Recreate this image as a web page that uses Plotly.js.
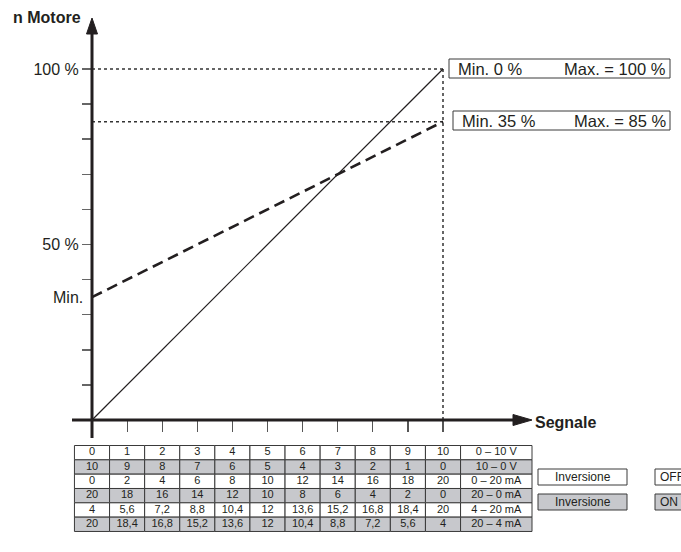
<!DOCTYPE html>
<html>
<head>
<meta charset="utf-8">
<script src="https://cdn.plot.ly/plotly-3.0.1.min.js"></script>
<style>html,body{margin:0;padding:0;background:#fff;}#chart{width:681px;height:552px;}</style>
</head>
<body>
<div id="chart"></div>
<script>
// ---------- data ----------
const signal = [0, 10];
const speedFull = [0, 100];
const speedLimited = [35, 85];
const boxMin = [0, 35];
const boxMax = [100, 85];
const yTickVals = [10, 20, 30, 40, 50, 60, 70, 80, 90, 100];
const yTickText = ['', '', '', '', '50 %', '', '', '', '', '100 %'];
const xTickVals = [1, 2, 3, 4, 5, 6, 7, 8, 9, 10];
const tableCols = [0, 1, 2, 3, 4, 5, 6, 7, 8, 9, 10];
const row1 = ['0', '1', '2', '3', '4', '5', '6', '7', '8', '9', '10'];
const row2 = ['10', '9', '8', '7', '6', '5', '4', '3', '2', '1', '0'];
const row3 = ['0', '2', '4', '6', '8', '10', '12', '14', '16', '18', '20'];
const row4 = ['20', '18', '16', '14', '12', '10', '8', '6', '4', '2', '0'];
const row5 = ['4', '5,6', '7,2', '8,8', '10,4', '12', '13,6', '15,2', '16,8', '18,4', '20'];
const row6 = ['20', '18,4', '16,8', '15,2', '13,6', '12', '10,4', '8,8', '7,2', '5,6', '4'];
const rowLabels = ['0 – 10 V', '10 – 0 V', '0 – 20 mA', '20 – 0 mA', '4 – 20 mA', '20 – 4 mA'];
const inversionLabels = ['Inversione', 'Inversione'];
const inversionStates = ['OFF', 'ON'];

// ---------- geometry helpers (pixel -> data) ----------
const W = 681, H = 552;
const PX0 = 92, PXU = 35.1;   // x: 0 at 92px, 35.1 px per unit
const PY0 = 420, PYU = 3.51;  // y: 0 at 420px, 3.51 px per %
const X = p => (p - PX0) / PXU;
const Y = p => (PY0 - p) / PYU;

const FONT = 'Liberation Sans, Arial, Helvetica, sans-serif';
const DARK = '#231f20';
const GRAY = '#c7c8cc';

const traces = [];
const shapes = [];
const annotations = [];

// reference dotted lines (max levels and full-scale signal)
const maxLevels = [speedFull[1], speedLimited[1]];
maxLevels.forEach(v => {
  traces.push({x: [signal[0], signal[1]], y: [v, v], mode: 'lines', hoverinfo: 'skip',
    line: {color: '#333', width: 1.5, dash: 'dot'}});
});
traces.push({x: [signal[1], signal[1]], y: [speedFull[1], Y(433)], mode: 'lines', hoverinfo: 'skip',
  line: {color: '#333', width: 1.5, dash: 'dot'}});

// main curves
traces.push({x: signal, y: speedFull, mode: 'lines', hoverinfo: 'skip',
  line: {color: DARK, width: 1.2}});
traces.push({x: signal, y: speedLimited, mode: 'lines', hoverinfo: 'skip',
  line: {color: DARK, width: 2.6, dash: '11px,6px'}});

// ---------- table ----------
const rows = [row1, row2, row3, row4, row5, row6];
const tTop = 445.5, rowH = 14.33;
const labelLeft = tableCols[tableCols.length - 1] + 0.5, labelRight = X(532);
rows.forEach((r, i) => {
  const yT = Y(tTop + i * rowH), yB = Y(tTop + (i + 1) * rowH);
  const fill = i % 2 === 1 ? GRAY : '#ffffff';
  tableCols.forEach(c => {
    shapes.push({type: 'rect', xref: 'x', yref: 'y', x0: c - 0.5, x1: c + 0.5, y0: yB, y1: yT,
      fillcolor: fill, line: {color: '#3a3a3a', width: 1}, layer: 'below'});
  });
  shapes.push({type: 'rect', xref: 'x', yref: 'y', x0: labelLeft, x1: labelRight, y0: yB, y1: yT,
    fillcolor: fill, line: {color: '#3a3a3a', width: 1}, layer: 'below'});
  const yc = (yT + yB) / 2;
  traces.push({x: tableCols.concat([(labelLeft + labelRight) / 2]),
    y: tableCols.map(() => yc).concat([yc]),
    text: r.concat([rowLabels[i]]), mode: 'text', hoverinfo: 'skip',
    textposition: 'middle center', textfont: {family: FONT, size: 11, color: DARK}});
});

// inversion boxes
inversionLabels.forEach((lab, i) => {
  const top = i === 0 ? 469 : 494, bot = top + 16;
  const fill = i === 0 ? '#ffffff' : GRAY;
  shapes.push({type: 'rect', xref: 'x', yref: 'y', x0: X(538), x1: X(627), y0: Y(bot), y1: Y(top),
    fillcolor: fill, line: {color: '#3a3a3a', width: 1}, layer: 'below'});
  shapes.push({type: 'rect', xref: 'x', yref: 'y', x0: X(655), x1: X(700), y0: Y(bot), y1: Y(top),
    fillcolor: fill, line: {color: '#3a3a3a', width: 1}, layer: 'below'});
  annotations.push({x: (X(538) + X(627)) / 2, y: Y((top + bot) / 2), text: lab, showarrow: false,
    xanchor: 'center', yanchor: 'middle', font: {family: FONT, size: 12, color: DARK}});
  annotations.push({x: X(658), y: Y((top + bot) / 2), text: inversionStates[i], showarrow: false,
    xanchor: 'left', yanchor: 'middle', font: {family: FONT, size: 12, color: DARK}});
});

// min/max boxes
boxMin.forEach((mn, i) => {
  const top = i === 0 ? 59 : 111, bot = top + 19;
  const left = i === 0 ? 449 : 453;
  shapes.push({type: 'rect', xref: 'x', yref: 'y', x0: X(left), x1: X(670), y0: Y(bot), y1: Y(top),
    fillcolor: '#ffffff', line: {color: '#3a3a3a', width: 1}, layer: 'below'});
  annotations.push({x: X(left + 7), y: Y((top + bot) / 2), text: 'Min. ' + mn + ' %', showarrow: false,
    xanchor: 'left', yanchor: 'middle', font: {family: FONT, size: 16.5, color: DARK}});
  annotations.push({x: X(668), y: Y((top + bot) / 2), text: 'Max. = ' + boxMax[i] + ' %', showarrow: false,
    xanchor: 'right', yanchor: 'middle', font: {family: FONT, size: 16.5, color: DARK}});
});

// ---------- axis lines and arrowheads ----------
shapes.push({type: 'line', xref: 'x', yref: 'y', x0: 0, x1: 0, y0: Y(438), y1: Y(33),
  line: {color: DARK, width: 3}});
shapes.push({type: 'path', xref: 'x', yref: 'y',
  path: `M ${X(86.5)},${Y(34)} L ${X(92)},${Y(18)} L ${X(97.5)},${Y(34)} Z`,
  fillcolor: DARK, line: {color: DARK, width: 1}});
shapes.push({type: 'line', xref: 'x', yref: 'y', x0: X(72), x1: X(515), y0: 0, y1: 0,
  line: {color: DARK, width: 3}});
shapes.push({type: 'path', xref: 'x', yref: 'y',
  path: `M ${X(513)},${Y(414.5)} L ${X(532)},${Y(420)} L ${X(513)},${Y(425.5)} Z`,
  fillcolor: DARK, line: {color: DARK, width: 1}});

annotations.push({x: X(11), y: Y(17), text: '<b>n Motore</b>', showarrow: false, xanchor: 'left', yanchor: 'middle',
  font: {family: FONT, size: 16, color: DARK}});
annotations.push({x: X(533), y: Y(422), text: '<b>Segnale</b>', showarrow: false, xanchor: 'left', yanchor: 'middle',
  font: {family: FONT, size: 16, color: DARK}});
annotations.push({x: 0, y: speedLimited[0], text: 'Min.', showarrow: false, xanchor: 'right', yanchor: 'middle',
  xshift: -7, font: {family: FONT, size: 16, color: DARK}});

const layout = {
  width: W, height: H,
  margin: {l: 0, r: 0, t: 0, b: 0, pad: 0},
  paper_bgcolor: '#ffffff', plot_bgcolor: 'rgba(0,0,0,0)',
  showlegend: false,
  xaxis: {range: [X(0), X(W)], anchor: 'free', position: (H - PY0) / H, showgrid: false, zeroline: false,
    showline: false, ticks: 'outside', tickvals: xTickVals, ticklen: 11, tickwidth: 1.2, tickcolor: '#555',
    showticklabels: false, fixedrange: true},
  yaxis: {range: [Y(H), Y(0)], anchor: 'free', position: PX0 / W, showgrid: false, zeroline: false,
    showline: false, ticks: 'outside', tickvals: yTickVals, ticktext: yTickText, ticklen: 10, tickwidth: 1.5,
    tickcolor: '#666', tickfont: {family: FONT, size: 16, color: DARK}, fixedrange: true},
  shapes: shapes,
  annotations: annotations,
  font: {family: FONT}
};

Plotly.newPlot('chart', traces, layout, {staticPlot: true, displayModeBar: false});
</script>
</body>
</html>
